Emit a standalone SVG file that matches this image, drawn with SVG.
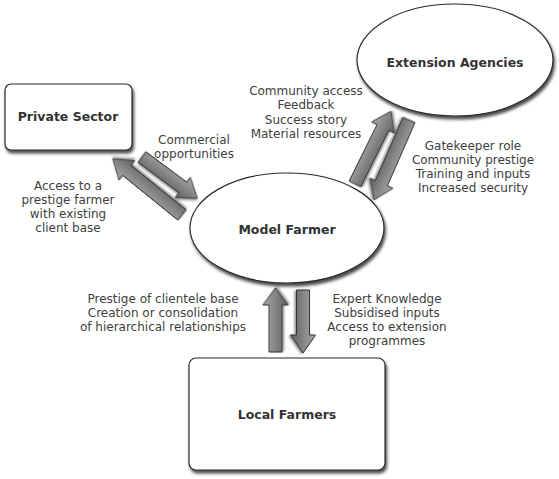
<svg xmlns="http://www.w3.org/2000/svg" width="559" height="479" viewBox="0 0 559 479">
<style>
.node{fill:#fff;stroke:#2b2b2b;stroke-width:1.2;filter:url(#sh)}
.title{font-family:"DejaVu Sans",Verdana,sans-serif;font-size:12.5px;font-weight:bold;fill:#333;text-anchor:middle}
.lbl{font-family:"DejaVu Sans",Verdana,sans-serif;font-size:12px;fill:#404040;text-anchor:middle}
.arr{fill:url(#ag);stroke:#333;stroke-width:1;filter:url(#ash)}
</style>
<defs>
<filter id="sh" x="-10%" y="-10%" width="125%" height="130%">
<feDropShadow dx="1.5" dy="3" stdDeviation="1.5" flood-color="#000" flood-opacity="0.7"/>
</filter>
<filter id="ash" x="-20%" y="-20%" width="150%" height="150%">
<feDropShadow dx="1" dy="1.5" stdDeviation="1" flood-color="#000" flood-opacity="0.45"/>
</filter>
<linearGradient id="ag" x1="0" y1="0" x2="0" y2="1">
<stop offset="0" stop-color="#aaa"/>
<stop offset="0.45" stop-color="#888"/>
<stop offset="1" stop-color="#5e5e5e"/>
</linearGradient>
</defs>
<rect width="559" height="479" fill="#fff"/>
<g id="connectors">
<path class="arr" transform="translate(142,157) rotate(36.7)" d="M0,-6.5 H51 V-12.5 L69,0 L51,12.5 V6.5 H0 Z"/>
<path class="arr" transform="translate(182,215) rotate(219)" d="M0,-6.5 H71 V-12.5 L89,0 L71,12.5 V6.5 H0 Z"/>
<path class="arr" transform="translate(355,184) rotate(-63.7)" d="M0,-6.5 H63 V-12.5 L81,0 L63,12.5 V6.5 H0 Z"/>
<path class="arr" transform="translate(409,120) rotate(113.6)" d="M0,-6.5 H69 V-12.5 L87,0 L69,12.5 V6.5 H0 Z"/>
<path class="arr" transform="translate(275.5,352) rotate(-90)" d="M0,-6.5 H47 V-12.5 L64,0 L47,12.5 V6.5 H0 Z"/>
<path class="arr" transform="translate(303,290) rotate(90)" d="M0,-6.5 H45 V-12.5 L63,0 L45,12.5 V6.5 H0 Z"/>
</g>
<g id="private-sector">
<rect class="node" x="5" y="84" width="127" height="66" rx="6"/>
<text class="title" x="68" y="121">Private Sector</text>
</g>
<g id="extension-agencies">
<ellipse class="node" cx="455" cy="60" rx="98" ry="56"/>
<text class="title" x="455" y="66.5">Extension Agencies</text>
</g>
<g id="model-farmer">
<ellipse class="node" cx="287" cy="228" rx="97" ry="55"/>
<text class="title" x="287" y="233.5">Model Farmer</text>
</g>
<g id="local-farmers">
<rect class="node" x="189" y="358" width="196" height="112" rx="7"/>
<text class="title" x="287" y="418.5">Local Farmers</text>
</g>
<g id="labels">
<text class="lbl" x="306"><tspan x="306" y="94.5">Community access</tspan><tspan x="306" y="109">Feedback</tspan><tspan x="306" y="123.5">Success story</tspan><tspan x="306" y="138">Material resources</tspan></text>
<text class="lbl" x="473"><tspan x="473" y="150">Gatekeeper role</tspan><tspan x="473" y="164">Community prestige</tspan><tspan x="473" y="178">Training and inputs</tspan><tspan x="473" y="192">Increased security</tspan></text>
<text class="lbl" x="194"><tspan x="194" y="143.5">Commercial</tspan><tspan x="194" y="157.5">opportunities</tspan></text>
<text class="lbl" x="68"><tspan x="68" y="190">Access to a</tspan><tspan x="68" y="204">prestige farmer</tspan><tspan x="68" y="218">with existing</tspan><tspan x="68" y="232">client base</tspan></text>
<text class="lbl" x="163"><tspan x="163" y="302.5">Prestige of clientele base</tspan><tspan x="163" y="316.5">Creation or consolidation</tspan><tspan x="163" y="330.5">of hierarchical relationships</tspan></text>
<text class="lbl" x="387"><tspan x="387" y="302.5">Expert Knowledge</tspan><tspan x="387" y="316.5">Subsidised inputs</tspan><tspan x="387" y="330.5">Access to extension</tspan><tspan x="387" y="344.5">programmes</tspan></text>
</g>
</svg>
